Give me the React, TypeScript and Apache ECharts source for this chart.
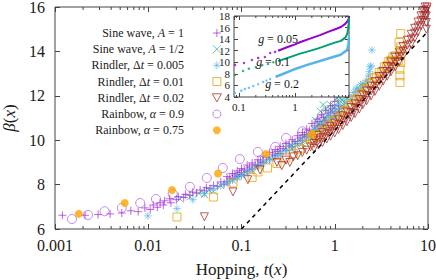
import React, { useEffect, useRef } from 'react';
import * as echarts from 'echarts';

// ---------- main panel data ----------
const mainXRange = [0.001, 10];
const mainYRange = [6, 16];
const mainMinorTicks = [
  0.002, 0.003, 0.004, 0.005, 0.006, 0.007, 0.008, 0.009,
  0.02, 0.03, 0.04, 0.05, 0.06, 0.07, 0.08, 0.09,
  0.2, 0.3, 0.4, 0.5, 0.6, 0.7, 0.8, 0.9,
  2, 3, 4, 5, 6, 7, 8, 9,
];

const sineA1 = [
  [0.0012, 6.62], [0.0021, 6.62], [0.0029, 6.65], [0.0039, 6.68], [0.0052, 6.72], [0.0065, 6.82],
  [0.0078, 6.78], [0.0092, 6.95], [0.0105, 6.88], [0.0113, 7.08], [0.0125, 6.98], [0.0134, 7.18],
  [0.0145, 7.08], [0.015, 7.27], [0.017, 7.36], [0.0175, 7.18], [0.02, 7.32], [0.021, 7.46],
  [0.024, 7.42], [0.025, 7.56], [0.028, 7.52], [0.03, 7.66], [0.033, 7.62], [0.036, 7.76],
  [0.04, 7.72], [0.042, 7.86], [0.046, 7.82], [0.05, 7.96], [0.055, 7.92], [0.06, 8.12], [0.065, 8.02],
  [0.07, 8.12], [0.07, 8.36], [0.08, 8.25], [0.08, 8.5], [0.09, 8.36], [0.09, 8.62], [0.1, 8.45],
  [0.1, 8.72], [0.115, 8.6], [0.115, 8.88], [0.13, 8.7], [0.13, 8.98], [0.15, 8.85], [0.15, 9.12],
  [0.17, 9.0], [0.17, 9.28], [0.2, 9.15], [0.2, 9.45], [0.23, 9.3], [0.23, 9.58], [0.26, 9.4],
  [0.26, 9.72], [0.3, 9.55], [0.3, 9.85], [0.35, 9.7], [0.35, 10.02], [0.4, 9.85], [0.4, 10.2],
  [0.45, 10.0], [0.45, 10.35], [0.5, 10.15], [0.5, 10.5], [0.57, 10.35], [0.57, 10.75], [0.65, 10.55],
  [0.65, 10.95], [0.72, 10.7], [0.72, 11.15], [0.8, 10.9], [0.8, 11.35], [0.9, 11.1], [0.9, 11.55],
  [1.0, 11.3], [1.0, 11.75], [1.06, 11.95], [1.1, 11.55],
  [0.075, 8.3], [0.085, 8.43], [0.095, 8.54], [0.107, 8.66], [0.122, 8.79], [0.14, 8.91], [0.16, 9.06],
  [0.185, 9.22], [0.215, 9.37], [0.245, 9.5], [0.28, 9.63], [0.325, 9.78], [0.375, 9.94], [0.425, 10.1],
  [0.475, 10.25], [0.535, 10.44], [0.61, 10.65], [0.68, 10.84], [0.76, 11.02], [0.85, 11.22], [0.95, 11.42],
];

const sineAHalf = [
  [0.022, 7.35], [0.028, 7.45], [0.035, 7.6], [0.04, 7.55], [0.045, 7.75], [0.05, 7.7], [0.06, 7.95],
  [0.07, 8.1], [0.08, 8.2], [0.09, 8.35], [0.1, 8.45], [0.11, 8.55], [0.125, 8.7], [0.14, 8.8],
  [0.16, 8.95], [0.18, 9.1], [0.2, 9.2], [0.23, 9.35], [0.26, 9.5], [0.3, 9.65], [0.34, 9.8],
  [0.38, 9.9], [0.43, 10.05], [0.48, 10.2], [0.54, 10.35], [0.6, 10.5], [0.66, 10.7], [0.72, 10.85],
  [0.78, 11.0], [0.85, 11.2], [0.92, 11.35], [1.0, 11.5], [1.08, 11.7], [1.15, 11.9], [1.22, 12.1],
  [1.3, 12.25], [1.35, 11.9], [1.25, 11.6], [1.15, 11.4], [0.95, 11.0], [0.8, 11.4], [0.75, 11.6],
  [0.7, 11.3], [0.62, 10.9], [0.55, 10.1], [0.45, 9.85], [0.35, 9.6],
  [1.1, 11.2], [1.2, 11.8], [1.28, 11.95], [1.05, 11.9], [0.9, 11.6],
];

const rindler005 = [
  [0.0099, 6.59], [0.0203, 6.92], [0.03, 7.32], [0.04, 7.6], [0.05, 7.82], [0.06, 7.95], [0.07, 8.05],
  [0.08, 8.2], [0.09, 8.3], [0.1, 8.4], [0.115, 8.55], [0.13, 8.65], [0.15, 8.8], [0.17, 8.95],
  [0.2, 9.1], [0.23, 9.25], [0.26, 9.35], [0.3, 9.5], [0.35, 9.65], [0.4, 9.8], [0.45, 9.95],
  [0.5, 10.1], [0.57, 10.25], [0.65, 10.45], [0.72, 10.6], [0.8, 10.75], [0.9, 10.95], [1.0, 11.1],
  [1.1, 11.3], [1.2, 11.45], [1.35, 11.65], [1.5, 11.85], [1.65, 12.0], [1.8, 12.2], [1.95, 12.35],
  [2.1, 12.5], [2.2, 12.7], [2.3, 12.9], [2.35, 13.1], [2.4, 13.3], [2.45, 13.35], [2.5, 14.06],
  [2.3, 12.4], [2.0, 12.55], [1.7, 12.3],
  [0.55, 10.3], [0.62, 10.5], [0.7, 10.7], [0.78, 10.9], [0.86, 11.05], [0.95, 11.25], [1.05, 11.4],
  [1.15, 11.55], [1.27, 11.75], [1.42, 11.95], [1.58, 12.15], [1.75, 12.35], [1.9, 12.5],
];

const rindler01 = [
  [0.0203, 6.54], [0.05, 7.44], [0.081, 8.07], [0.13, 8.32], [0.15, 8.57], [0.19, 8.75], [0.24, 8.95],
  [0.3, 9.2], [0.36, 9.4], [0.42, 9.6], [0.5, 9.8], [0.58, 10.0], [0.67, 10.2], [0.77, 10.45],
  [0.88, 10.65], [1.0, 10.85], [1.15, 11.1], [1.3, 11.35], [1.5, 11.6], [1.7, 11.85], [1.95, 12.1],
  [2.2, 12.35], [2.5, 12.6], [2.8, 12.85], [3.2, 13.1], [3.6, 13.35], [4.0, 13.6], [4.4, 13.8],
  [4.8, 13.6], [5.0, 12.6], [5.0, 12.9], [5.0, 13.2], [5.1, 13.5], [5.0, 13.9], [5.1, 14.2],
  [5.1, 14.8], [4.9, 14.4],
  [0.54, 10.05], [0.62, 10.25], [0.72, 10.45], [0.82, 10.65], [0.94, 10.85], [1.07, 11.05],
  [1.22, 11.3], [1.4, 11.55], [1.6, 11.8], [1.82, 12.05], [2.07, 12.3], [2.35, 12.55], [2.65, 12.8],
  [3.0, 13.05], [3.4, 13.3], [3.8, 13.55], [4.2, 13.75],
];

const rindler02 = [
  [0.04, 6.55], [0.081, 7.67], [0.117, 8.22], [0.158, 8.66], [0.24, 9.0], [0.27, 8.85], [0.3, 9.1],
  [0.33, 9.0], [0.36, 9.25], [0.4, 9.3], [0.45, 9.45], [0.5, 9.55], [0.55, 9.7],
  [0.6, 9.63], [0.6, 9.85], [0.6, 10.07], [0.67, 9.78], [0.67, 10.0], [0.67, 10.22],
  [0.74, 9.9], [0.74, 10.12], [0.74, 10.34], [0.82, 10.05], [0.82, 10.27], [0.82, 10.49],
  [0.9, 10.18], [0.9, 10.4], [0.9, 10.62], [1.0, 10.33], [1.0, 10.55], [1.0, 10.77],
  [1.1, 10.48], [1.1, 10.7], [1.1, 10.92], [1.22, 10.66], [1.22, 10.88], [1.22, 11.1],
  [1.35, 10.83], [1.35, 11.05], [1.35, 11.27], [1.5, 11.03], [1.5, 11.25], [1.5, 11.47],
  [1.65, 11.2], [1.65, 11.42], [1.65, 11.64], [1.83, 11.4], [1.83, 11.62], [1.83, 11.84],
  [2.0, 11.6], [2.0, 11.82], [2.0, 12.04], [2.2, 11.78], [2.2, 12.0], [2.2, 12.22],
  [2.45, 12.0], [2.45, 12.22], [2.45, 12.44], [2.7, 12.2], [2.7, 12.42], [2.7, 12.64],
  [3.0, 12.43], [3.0, 12.65], [3.0, 12.87], [3.3, 12.66], [3.3, 12.88], [3.3, 13.1],
  [3.65, 12.88], [3.65, 13.1], [3.65, 13.32], [4.0, 13.08], [4.0, 13.3], [4.0, 13.52],
  [4.45, 13.3], [4.45, 13.52], [4.45, 13.74], [4.9, 13.53], [4.9, 13.75], [4.9, 13.97],
  [5.4, 13.78], [5.4, 14.0], [5.4, 14.22], [6.0, 14.06], [6.0, 14.28], [6.0, 14.5],
  [6.6, 14.33], [6.6, 14.55], [6.6, 14.77], [7.2, 14.6], [7.2, 14.82], [7.2, 15.04],
  [7.8, 14.88], [7.8, 15.1], [7.8, 15.32], [8.4, 15.16], [8.4, 15.38], [8.4, 15.6],
  [8.9, 15.4], [8.9, 15.62], [8.9, 15.84], [9.3, 15.6], [9.3, 15.82], [9.3, 16.0],
  [9.6, 15.0], [9.6, 15.3], [9.6, 15.6], [9.7, 15.9], [9.8, 16.0],
];

const rainbow09 = [
  [0.00152, 6.45], [0.00226, 6.63], [0.0034, 6.8], [0.0052, 6.95], [0.0082, 7.17], [0.0121, 7.35],
  [0.0183, 7.58], [0.028, 7.9], [0.0425, 8.3], [0.063, 8.75], [0.096, 9.15], [0.15, 9.47],
  [0.23, 9.7], [0.3, 10.1], [0.45, 10.4], [0.7, 10.9], [1.0, 11.4],
];

const rainbow075 = [
  [0.0018, 6.68], [0.0056, 7.17], [0.018, 7.76], [0.056, 8.5], [0.184, 9.38], [0.57, 10.28],
];

const asymptote = [[0.1, 6], [10, 14.9]];

// ---------- inset data ----------
const insetXRange = [0.0815, 9.2];
const insetYRange = [4, 18];
const insetMinorTicks = [0.09, 0.2, 0.3, 0.4, 0.5, 0.6, 0.7, 0.8, 0.9, 2, 3, 4, 5, 6, 7, 8, 9];

const g005Sparse = [
  [0.085, 9.54], [0.123, 9.88], [0.17, 10.4], [0.22, 10.75], [0.29, 10.9], [0.36, 11.6], [0.44, 11.8],
];
const g005Dense = [
  [0.5, 12.0], [0.7, 12.55], [1.0, 13.1], [1.25, 13.5], [1.8, 14.05], [2.8, 14.7], [4.0, 15.3],
  [5.5, 15.8], [6.6, 16.1], [7.8, 16.6], [8.5, 17.0], [9.0, 17.4], [9.2, 17.9],
];
const g01Sparse = [
  [0.085, 7.8], [0.118, 8.5], [0.15, 8.9], [0.2, 9.15], [0.26, 9.5], [0.33, 9.7], [0.41, 10.0],
];
const g01Dense = [
  [0.5, 10.2], [0.81, 10.9], [1.23, 11.5], [1.6, 11.8], [2.6, 12.4], [3.2, 12.7], [5.1, 13.4],
  [6.6, 13.7], [8.0, 14.3], [8.6, 15.0], [8.9, 15.9], [9.1, 16.8], [9.2, 17.7],
];
const g02Sparse = [
  [0.085, 4.7], [0.11, 5.1], [0.128, 5.4], [0.15, 5.6], [0.18, 5.9], [0.22, 6.2], [0.27, 6.6],
  [0.31, 6.85], [0.36, 7.1],
];
const g02Dense = [
  [0.45, 7.5], [0.55, 7.8], [0.92, 8.7], [1.6, 9.5], [3.2, 10.4], [6.5, 11.3], [8.5, 12.1],
  [9.0, 13.0], [9.2, 14.4],
];

const seriesNames = [
  'Sine wave, A = 1',
  'Sine wave, A = 1/2',
  'Rindler, Δt = 0.005',
  'Rindler, Δt = 0.01',
  'Rindler, Δt = 0.02',
  'Rainbow, α = 0.9',
  'Rainbow, α = 0.75',
];
const legendRich: Record<string, string> = {
  'Sine wave, A = 1': 'Sine wave, {i|A} = 1',
  'Sine wave, A = 1/2': 'Sine wave, {i|A} = 1/2',
  'Rindler, Δt = 0.005': 'Rindler, Δ{i|t} = 0.005',
  'Rindler, Δt = 0.01': 'Rindler, Δ{i|t} = 0.01',
  'Rindler, Δt = 0.02': 'Rindler, Δ{i|t} = 0.02',
  'Rainbow, α = 0.9': 'Rainbow, {i|α} = 0.9',
  'Rainbow, α = 0.75': 'Rainbow, {i|α} = 0.75',
};

const FONT = 'Liberation Serif';
const AX = '#444';
const TXT = '#1a1a1a';

const PLUS = 'path://M5,0L5,10M0,5L10,5';
const CROSS = 'path://M0,0L10,10M10,0L0,10';
const STAR = 'path://M5,0L5,10M0,5L10,5M1.5,1.5L8.5,8.5M8.5,1.5L1.5,8.5';
const SQUARE = 'path://M0,0L10,0L10,10L0,10Z';
const TRI_DOWN = 'path://M0,0L10,0L5,8.7Z';

function fmt(v: number) {
  return String(parseFloat(Number(v).toPrecision(4)));
}

function minorTickSeries(ticks: number[], xi: number, yi: number, y0: number, y1: number, len: number, z: number) {
  return {
    type: 'custom',
    xAxisIndex: xi,
    yAxisIndex: yi,
    silent: true,
    clip: false,
    z,
    data: ticks.map((v) => [v, y0]),
    renderItem: (params: any, api: any) => {
      const v = api.value(0);
      const b = api.coord([v, y0]);
      const t = api.coord([v, y1]);
      const st = { stroke: AX, lineWidth: 1 };
      return {
        type: 'group',
        children: [
          { type: 'line', shape: { x1: b[0], y1: b[1], x2: b[0], y2: b[1] - len }, style: st },
          { type: 'line', shape: { x1: t[0], y1: t[1], x2: t[0], y2: t[1] + len }, style: st },
        ],
      };
    },
  };
}

function hollow(name: string, data: number[][], symbol: string, size: number, color: string, opacity: number) {
  return {
    name,
    type: 'scatter',
    xAxisIndex: 0,
    yAxisIndex: 0,
    data,
    symbol,
    symbolSize: size,
    itemStyle: { color: 'none', borderColor: color, borderWidth: 1, opacity },
    z: 2,
  };
}

export default function App() {
  const ref = useRef<HTMLDivElement>(null);
  useEffect(() => {
    document.body.style.margin = '0';
    const chart = echarts.init(ref.current!, undefined, { renderer: 'svg' });
    const italic = { fontStyle: 'italic', fontFamily: FONT };
    const tickCommon = { show: true, inside: true, lineStyle: { color: AX, width: 1 } };
    const gLabel = (text: string, x: number, y: number) => ({
      type: 'text', x, y, z: 30,
      style: {
        text, rich: { i: { ...italic, fontSize: 12, fill: TXT } },
        fontFamily: FONT, fontSize: 12, fill: TXT, align: 'center', verticalAlign: 'middle',
      },
    });
    chart.setOption({
      animation: false,
      backgroundColor: '#fff',
      grid: [
        { left: 55, top: 7, right: 8, bottom: 51, show: true, borderColor: AX, borderWidth: 1, backgroundColor: 'transparent', outerBoundsMode: 'none' },
        { left: 234, top: 16, width: 115, height: 81, show: true, borderColor: AX, borderWidth: 1, backgroundColor: '#fff', z: 10, outerBoundsMode: 'none' },
      ],
      xAxis: [
        {
          gridIndex: 0, type: 'log', logBase: 10, min: mainXRange[0], max: mainXRange[1], position: 'bottom',
          axisLine: { show: false }, axisTick: { ...tickCommon, length: 5 }, splitLine: { show: false },
          axisLabel: { fontFamily: FONT, fontSize: 16, color: TXT, margin: 8, formatter: fmt },
          name: 'Hopping, {i|t}({i|x})', nameLocation: 'middle', nameGap: 32,
          nameTextStyle: { fontFamily: FONT, fontSize: 17, color: TXT, rich: { i: { ...italic, fontSize: 17, color: TXT } } },
        },
        {
          gridIndex: 0, type: 'log', logBase: 10, min: mainXRange[0], max: mainXRange[1], position: 'top',
          axisLine: { show: false }, axisTick: { ...tickCommon, length: 5 }, axisLabel: { show: false }, splitLine: { show: false },
        },
        {
          gridIndex: 1, type: 'log', logBase: 10, min: insetXRange[0], max: insetXRange[1], position: 'bottom', z: 12,
          axisLine: { show: false }, axisTick: { ...tickCommon, length: 4 }, splitLine: { show: false },
          axisLabel: { fontFamily: FONT, fontSize: 11, color: TXT, margin: 4, formatter: fmt, showMinLabel: false, showMaxLabel: false },
        },
        {
          gridIndex: 1, type: 'log', logBase: 10, min: insetXRange[0], max: insetXRange[1], position: 'top', z: 12,
          axisLine: { show: false }, axisTick: { ...tickCommon, length: 4 }, axisLabel: { show: false }, splitLine: { show: false },
        },
      ],
      yAxis: [
        {
          gridIndex: 0, type: 'value', min: mainYRange[0], max: mainYRange[1], interval: 2, position: 'left',
          axisLine: { show: false }, axisTick: { ...tickCommon, length: 5 }, splitLine: { show: false },
          axisLabel: { fontFamily: FONT, fontSize: 16, color: TXT, margin: 10 },
          name: '{i|β}({i|x})', nameLocation: 'middle', nameGap: 37, nameRotate: 90,
          nameTextStyle: { fontFamily: FONT, fontSize: 17, color: TXT, rich: { i: { ...italic, fontSize: 17, color: TXT } } },
        },
        {
          gridIndex: 0, type: 'value', min: mainYRange[0], max: mainYRange[1], interval: 2, position: 'right',
          axisLine: { show: false }, axisTick: { ...tickCommon, length: 5 }, axisLabel: { show: false }, splitLine: { show: false },
        },
        {
          gridIndex: 1, type: 'value', min: insetYRange[0], max: insetYRange[1], interval: 2, position: 'left', z: 12,
          axisLine: { show: false }, axisTick: { ...tickCommon, length: 4 }, splitLine: { show: false },
          axisLabel: { fontFamily: FONT, fontSize: 11, color: TXT, margin: 4 },
        },
        {
          gridIndex: 1, type: 'value', min: insetYRange[0], max: insetYRange[1], interval: 2, position: 'right', z: 12,
          axisLine: { show: false }, axisTick: { ...tickCommon, length: 4 }, axisLabel: { show: false }, splitLine: { show: false },
        },
      ],
      legend: {
        data: seriesNames,
        orient: 'vertical',
        align: 'right',
        right: 212,
        top: 25,
        padding: 0,
        itemWidth: 56,
        itemHeight: 8,
        itemGap: 0.2,
        selectedMode: false,
        itemStyle: { borderWidth: 1 },
        formatter: (name: string) => legendRich[name],
        textStyle: {
          fontFamily: FONT, fontSize: 12, color: TXT, lineHeight: 16,
          rich: { i: { ...italic, fontSize: 12, color: TXT, lineHeight: 16 } },
        },
      },
      graphic: [
        gLabel('{i|g} = 0.05', 278, 39),
        gLabel('{i|g} = 0.1', 273, 62),
        gLabel('{i|g} = 0.2', 282, 84),
      ],
      series: [
        hollow(seriesNames[0], sineA1, PLUS, 8, '#9400d3', 0.6),
        hollow(seriesNames[1], sineAHalf, CROSS, 7, '#009e73', 0.6),
        hollow(seriesNames[2], rindler005, STAR, 8, '#56b4e9', 0.65),
        hollow(seriesNames[3], rindler01, SQUARE, 8, '#e69f00', 0.75),
        hollow(seriesNames[4], rindler02, TRI_DOWN, 8, '#a52a2a', 0.75),
        hollow(seriesNames[5], rainbow09, 'circle', 9, '#a040e0', 0.6),
        {
          name: seriesNames[6], type: 'scatter', xAxisIndex: 0, yAxisIndex: 0, data: rainbow075,
          symbol: 'circle', symbolSize: 8, itemStyle: { color: '#ffa500' }, z: 2,
        },
        {
          name: 'asymptote', type: 'line', xAxisIndex: 0, yAxisIndex: 0, data: asymptote, symbol: 'none', z: 3,
          lineStyle: { color: '#000', width: 1.5, type: [4, 4] },
        },
        minorTickSeries(mainMinorTicks, 0, 0, mainYRange[0], mainYRange[1], 3, 5),
        // inset
        { name: 'g005d', type: 'line', xAxisIndex: 2, yAxisIndex: 2, data: g005Dense, symbol: 'none', z: 13, lineStyle: { color: '#9400d3', width: 2 } },
        { name: 'g005s', type: 'scatter', xAxisIndex: 2, yAxisIndex: 2, data: g005Sparse, symbol: 'circle', symbolSize: 2.5, z: 13, itemStyle: { color: '#9400d3' } },
        { name: 'g01d', type: 'line', xAxisIndex: 2, yAxisIndex: 2, data: g01Dense, symbol: 'none', z: 13, lineStyle: { color: '#009e73', width: 2 } },
        { name: 'g01s', type: 'scatter', xAxisIndex: 2, yAxisIndex: 2, data: g01Sparse, symbol: 'circle', symbolSize: 2.5, z: 13, itemStyle: { color: '#009e73' } },
        { name: 'g02d', type: 'line', xAxisIndex: 2, yAxisIndex: 2, data: g02Dense, symbol: 'none', z: 13, lineStyle: { color: '#56b4e9', width: 2.5 } },
        { name: 'g02s', type: 'scatter', xAxisIndex: 2, yAxisIndex: 2, data: g02Sparse, symbol: 'circle', symbolSize: 2.5, z: 13, itemStyle: { color: '#56b4e9' } },
        minorTickSeries(insetMinorTicks, 2, 2, insetYRange[0], insetYRange[1], 2, 14),
      ],
    });
    return () => chart.dispose();
  }, []);
  return <div ref={ref} style={{ width: 436, height: 280 }} />;
}
